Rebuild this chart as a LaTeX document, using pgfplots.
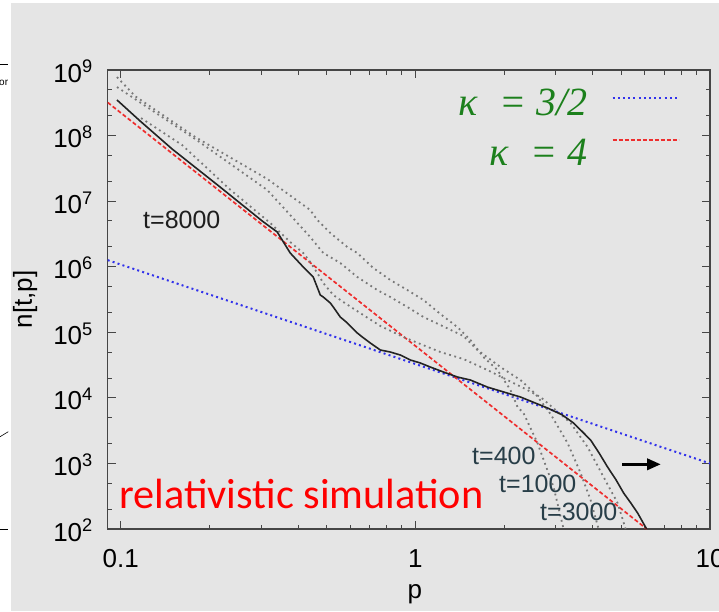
\documentclass[border=0pt]{standalone}
\usepackage{pgfplots}
\pgfplotsset{compat=1.18}
\usepackage{fontspec}
\setmainfont{Liberation Sans}
\newfontfamily\calfont{Carlito}
\newfontfamily\legfont{Liberation Serif}
\usetikzlibrary{arrows.meta}
\definecolor{bggray}{RGB}{229,229,229}
\definecolor{legreen}{RGB}{28,128,28}
\definecolor{lblue}{RGB}{50,50,235}
\definecolor{lred}{RGB}{238,45,45}
\definecolor{cgray}{RGB}{120,120,120}
\definecolor{cblack}{RGB}{35,35,35}
\definecolor{tcol}{RGB}{40,62,72}
\definecolor{axcol}{RGB}{70,70,70}
\pgfplotsset{
  blueleg/.style={legend image code/.code={\draw[lblue, line width=2pt, dash pattern=on 2pt off 3.2pt] (0pt,7pt) -- (65pt,7pt);}},
  redleg/.style={legend image code/.code={\draw[lred, line width=2pt, dash pattern=on 4pt off 2pt] (0pt,15pt) -- (66pt,15pt);}},
}
\begin{document}
\begin{tikzpicture}
\useasboundingbox (0pt,0pt) rectangle (719pt,-611pt);
\fill[white] (0pt,0pt) rectangle (719pt,-611pt);
\fill[bggray] (11pt,-3pt) rectangle (719pt,-611pt);
\draw[line width=0.8pt] (0pt,-64pt) -- (8pt,-64pt);
\draw[line width=0.8pt] (0pt,-529pt) -- (8pt,-529pt);
\draw[line width=0.6pt] (0pt,-436.7pt) -- (8.3pt,-431.7pt);
\node[anchor=base west, inner sep=0pt, font=\fontsize{10}{12}\selectfont] at (-1pt,-85pt) {or};
\begin{axis}[
  at={(107.7pt,-529pt)}, anchor=south west,
  scale only axis, width=602.3pt, height=459pt,
  xmode=log, ymode=log,
  xmin=0.0903, xmax=10, ymin=100, ymax=1e9,
  xtick={0.1,1,10}, xticklabels={0.1,1,10},
  minor xtick={0.2,0.3,0.4,0.5,0.6,0.7,0.8,0.9,2,3,4,5,6,7,8,9},
  ytick={1e2,1e3,1e4,1e5,1e6,1e7,1e8,1e9},
  yticklabels={10\textsuperscript{2},10\textsuperscript{3},10\textsuperscript{4},10\textsuperscript{5},10\textsuperscript{6},10\textsuperscript{7},10\textsuperscript{8},10\textsuperscript{9}},
  minor ytick={2e2,5e2,2e3,5e3,2e4,5e4,2e5,5e5,2e6,5e6,2e7,5e7,2e8,5e8},
  tick align=inside,
  major tick length=8pt, minor tick length=4.5pt,
  every tick/.style={axcol, line width=1pt},
  axis line style={axcol, line width=1.3pt},
  tick label style={font=\fontsize{26}{30}\selectfont, inner sep=0pt},
  xticklabel style={anchor=base, yshift=-38pt},
  yticklabel style={anchor=base east, xshift=-14.7pt, yshift=-12pt},
  xlabel={p}, ylabel={n[t,p]},
  label style={font=\fontsize{26}{30}\selectfont},
  xlabel style={at={(axis description cs:0.510,-0.152)}, anchor=base, inner sep=0pt},
  ylabel style={at={(axis description cs:-0.137,0.5)}, anchor=center, inner sep=0pt},
  legend style={draw=none, fill=none, inner sep=0pt, at={(axis description cs:0.950,0.967)}, anchor=north east, font=\legfont\itshape\fontsize{40}{42}\selectfont, text=legreen, column sep=24pt, row sep=10pt, nodes={inner sep=0pt, text height=30pt, text depth=10pt}},
  legend cell align=right,
  legend plot pos=right,
]
% kappa = 3/2 reference line
\addplot[lblue, line width=2pt, dash pattern=on 2pt off 3.2pt, blueleg]
  coordinates {(0.0903,1.26e6) (10,1.0e3)};
\addlegendentry{κ\hspace{0.55em}= 3/2}
% kappa = 4 reference line
\addplot[lred, line width=1.7pt, dash pattern=on 4pt off 2.4pt, redleg]
  coordinates {(0.0903,3.2e8) (6.1,100)};
\addlegendentry{κ\hspace{0.55em}= 4}
% t=400
\addplot[forget plot, cgray, line width=1.8pt, dash pattern=on 1.8pt off 3.6pt] coordinates {
(0.0971,7.82e8) (0.1118,4.0e8) (0.1789,9.51e7) (0.3142,2.18e7) (0.4396,7.33e6) (0.4645,5.16e6)
(0.5143,3.27e6) (0.5873,2.00e6) (0.6352,1.62e6) (0.7200,9.56e5) (0.8222,6.27e5) (0.9393,4.41e5)
(1.065,3.11e5) (1.216,1.90e5) (1.389,1.20e5) (1.538,7.63e4) (1.702,4.20e4) (1.899,2.66e4)
(2.102,1.32e4) (2.222,7.25e3) (2.328,5.87e3) (2.597,2.05e3) (2.944,4.37e2) (3.184,100)};
% t=1000
\addplot[forget plot, cgray, line width=1.8pt, dash pattern=on 1.8pt off 3.6pt] coordinates {
(0.0971,5.50e8) (0.1118,3.6e8) (0.1789,8.87e7) (0.3142,1.48e7) (0.3760,6.15e6) (0.4396,2.84e6)
(0.4868,1.62e6) (0.5560,1.14e6) (0.6352,6.97e5) (0.7426,4.41e5) (0.8222,3.45e5) (0.9393,2.43e5)
(1.065,1.71e5) (1.216,1.29e5) (1.456,8.78e4) (1.624,5.37e4) (1.945,2.95e4) (2.274,1.87e4)
(2.557,1.145e4) (2.876,5.67e3) (3.285,2.05e3) (3.637,7.14e2) (3.932,2.77e2) (4.186,100)};
% t=3000
\addplot[forget plot, cgray, line width=1.8pt, dash pattern=on 1.8pt off 3.6pt] coordinates {
(0.1172,1.85e8) (0.1615,7.18e7) (0.2351,1.5e7) (0.3217,4.64e6) (0.3760,2.38e6) (0.4163,1.62e6)
(0.4396,1.18e6) (0.4645,8.02e5) (0.4868,5.64e5) (0.5265,3.70e5) (0.5691,2.90e5) (0.6658,1.83e5)
(0.7605,1.25e5) (0.9104,8.47e4) (1.040,6.63e4) (1.216,5.00e4) (1.456,3.91e4) (1.756,2.66e4)
(2.054,1.87e4) (2.328,1.41e4) (2.659,1.03e4) (3.363,4.14e3) (3.841,1.78e3) (4.353,6.21e2)
(4.858,2.49e2) (5.171,100)};
% t=8000
\addplot[forget plot, cblack, line width=1.6pt] coordinates {
(0.0971,3.49e8) (0.1163,1.67e8) (0.1494,6.24e7) (0.2175,1.64e7) (0.3021,4.98e6) (0.3398,3.38e6)
(0.3760,1.62e6) (0.4163,9.90e5) (0.4501,6.97e5) (0.4756,3.70e5) (0.4868,3.45e5) (0.5143,2.80e5)
(0.5265,2.43e5) (0.5560,1.71e5) (0.5873,1.39e5) (0.6352,9.75e4) (0.6606,8.47e4) (0.7034,6.86e4)
(0.7605,5.37e4) (0.8222,5.00e4) (0.8892,4.50e4) (0.9616,3.78e4) (1.040,3.40e4) (1.124,2.95e4)
(1.245,2.48e4) (1.389,2.08e4) (1.538,1.87e4) (1.756,1.46e4) (2.274,1.03e4) (2.809,7.00e3)
(3.150,5.50e3) (3.442,4.14e3) (3.700,3.00e3) (3.932,2.28e3) (4.200,1.45e3) (4.491,8.82e2)
(4.800,5.60e2) (5.091,3.54e2) (5.400,2.45e2) (5.681,1.75e2) (6.095,100)};
\end{axis}
\node[anchor=base west, inner sep=0pt, text={rgb,255:red,30;green,30;blue,30}, font=\fontsize{25}{30}\selectfont] at (143pt,-228pt) {t=8000};
\node[anchor=base west, inner sep=0pt, text=tcol, font=\fontsize{25}{30}\selectfont] at (472pt,-464pt) {t=400};
\node[anchor=base west, inner sep=0pt, text=tcol, font=\fontsize{25}{30}\selectfont] at (499pt,-492pt) {t=1000};
\node[anchor=base west, inner sep=0pt, text=tcol, font=\fontsize{25}{30}\selectfont] at (540pt,-520pt) {t=3000};
\node[anchor=base west, inner sep=0pt, text=red, font=\calfont\fontsize{42.3}{48}\selectfont] at (119pt,-508pt) {relativistic simulation};
\draw[black, line width=3.6pt, -{Triangle[length=14pt,width=11pt]}] (622pt,-464.3pt) -- (661pt,-464.3pt);
\end{tikzpicture}
\end{document}
